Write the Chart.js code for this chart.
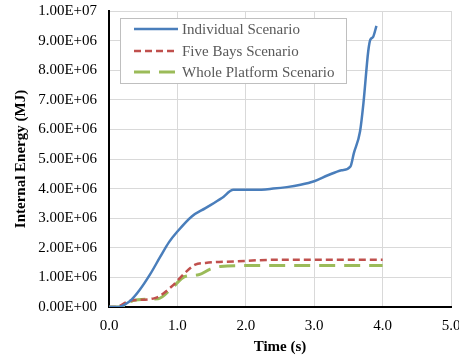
<!DOCTYPE html>
<html>
<head>
<meta charset="utf-8">
<script src="https://cdn.jsdelivr.net/npm/chart.js@4/dist/chart.umd.min.js"></script>
<style>
  html, body { margin: 0; padding: 0; background: #fff; }
  #wrap { width: 459px; height: 360px; }
</style>
</head>
<body>
<div id="wrap"><canvas id="grafico"></canvas></div>
<script>
// dados (tempo em s, energia em MJ)
const tempoIndividual = [0.0, 0.14, 0.23, 0.33, 0.45, 0.6, 0.75, 0.88, 1.0, 1.21, 1.41, 1.65, 1.82, 2.14, 2.4, 2.6, 2.8, 3.0, 3.2, 3.4, 3.53, 3.58, 3.67, 3.72, 3.79, 3.82, 3.86, 3.91];
const energiaIndividual = [0, 0, 0.08e6, 0.25e6, 0.58e6, 1.1e6, 1.7e6, 2.2e6, 2.55e6, 3.06e6, 3.34e6, 3.68e6, 3.96e6, 3.96e6, 4.0e6, 4.05e6, 4.13e6, 4.25e6, 4.45e6, 4.62e6, 4.75e6, 5.2e6, 5.93e6, 6.89e6, 8.64e6, 9.03e6, 9.12e6, 9.5e6];

const tempoCincoBaias = [0.0, 0.09, 0.31, 0.67, 0.92, 1.11, 1.26, 1.41, 1.84, 2.5, 3.0, 3.5, 4.0];
const energiaCincoBaias = [0, 0, 0.21e6, 0.3e6, 0.7e6, 1.15e6, 1.43e6, 1.49e6, 1.54e6, 1.6e6, 1.6e6, 1.6e6, 1.6e6];

const tempoPlataforma = [0.0, 0.3, 0.33, 0.72, 0.92, 1.11, 1.31, 1.48, 1.63, 2.0, 2.5, 3.0, 3.5, 4.0];
const energiaPlataforma = [0, 0, 0.21e6, 0.28e6, 0.64e6, 1.03e6, 1.09e6, 1.28e6, 1.37e6, 1.4e6, 1.4e6, 1.4e6, 1.4e6, 1.4e6];

const nomesSeries = ['Individual Scenario', 'Five Bays Scenario', 'Whole Platform Scenario'];

function pares(xs, ys) {
    let lista = [];
    for (let i = 0; i < xs.length; i++) {
        lista.push({ x: xs[i], y: ys[i] });
    }
    return lista;
}

function formatoCientifico(v) {
    let partes = Number(v).toExponential(2).toUpperCase().split('E');
    let exp = Number(partes[1]);
    let sinal = exp < 0 ? '-' : '+';
    let e = String(Math.abs(exp)).padStart(2, '0');
    return `${partes[0]}E${sinal}${e}`;
}

const fonteSerif = "'Liberation Serif', 'DejaVu Serif', serif";

// legenda desenhada dentro da area do grafico
const legendaInterna = {
    id: 'legendaInterna',
    afterDraw(chart) {
        const ctx = chart.ctx;
        const x0 = 120, y0 = 18, w = 226, h = 65;
        ctx.save();
        ctx.fillStyle = '#ffffff';
        ctx.fillRect(x0, y0, w, h);
        ctx.strokeStyle = '#bfbfbf';
        ctx.lineWidth = 1;
        ctx.strokeRect(x0 + 0.5, y0 + 0.5, w, h);
        const linhasY = [29, 51, 72];
        chart.data.datasets.forEach(function (ds, i) {
            ctx.beginPath();
            ctx.strokeStyle = ds.borderColor;
            ctx.lineWidth = ds.borderWidth;
            ctx.setLineDash(ds.borderDash || []);
            ctx.moveTo(134, linhasY[i]);
            ctx.lineTo(178, linhasY[i]);
            ctx.stroke();
            ctx.setLineDash([]);
            ctx.fillStyle = '#595959';
            ctx.font = `15px ${fonteSerif}`;
            ctx.textBaseline = 'middle';
            ctx.fillText(ds.label, 182, linhasY[i] + 1);
        });
        ctx.restore();
    }
};

const dados = {
    datasets: [
        {
            label: nomesSeries[0],
            data: pares(tempoIndividual, energiaIndividual),
            borderColor: '#4a7ebb',
            borderWidth: 2.5,
            pointRadius: 0,
            cubicInterpolationMode: 'monotone',
            fill: false
        },
        {
            label: nomesSeries[1],
            data: pares(tempoCincoBaias, energiaCincoBaias),
            borderColor: '#c0504d',
            borderWidth: 2.5,
            borderDash: [7, 4],
            pointRadius: 0,
            cubicInterpolationMode: 'monotone',
            fill: false
        },
        {
            label: nomesSeries[2],
            data: pares(tempoPlataforma, energiaPlataforma),
            borderColor: '#9bbb59',
            borderWidth: 3,
            borderDash: [16, 9],
            pointRadius: 0,
            cubicInterpolationMode: 'monotone',
            fill: false
        }
    ]
};

const config = {
    type: 'line',
    data: dados,
    options: {
        responsive: false,
        animation: false,
        layout: { padding: { top: 11, right: 8, left: 0, bottom: 0 } },
        plugins: {
            legend: { display: false },
            tooltip: { enabled: false }
        },
        scales: {
            x: {
                type: 'linear',
                min: 0,
                max: 5,
                ticks: {
                    stepSize: 1,
                    color: '#000',
                    padding: 10,
                    font: { family: fonteSerif, size: 15 },
                    callback: function (v) { return Number(v).toFixed(1); }
                },
                grid: { color: '#d9d9d9', drawTicks: false },
                border: { color: '#000', width: 2 },
                title: {
                    display: true,
                    text: 'Time (s)',
                    color: '#000',
                    font: { family: fonteSerif, size: 15, weight: 'bold' }
                },
                afterFit: function (scale) {
                    scale.height = 53;
                    scale.paddingRight = 0;
                    scale.paddingLeft = 0;
                }
            },
            y: {
                min: 0,
                max: 1e7,
                ticks: {
                    stepSize: 1e6,
                    color: '#000',
                    padding: 12,
                    font: { family: fonteSerif, size: 15 },
                    callback: function (v) { return formatoCientifico(v); }
                },
                grid: { color: '#d9d9d9', drawTicks: false },
                border: { color: '#000', width: 2 },
                title: {
                    display: true,
                    text: 'Internal Energy (MJ)',
                    color: '#000',
                    padding: { top: 12, bottom: 0 },
                    font: { family: fonteSerif, size: 15, weight: 'bold' }
                },
                afterFit: function (scale) {
                    scale.width = 109;
                    scale.paddingTop = 0;
                    scale.paddingBottom = 0;
                }
            }
        }
    },
    plugins: [legendaInterna]
};

const canvas = document.getElementById('grafico');
canvas.width = 459;
canvas.height = 360;
let grafico = new Chart(canvas, config);
</script>
</body>
</html>
